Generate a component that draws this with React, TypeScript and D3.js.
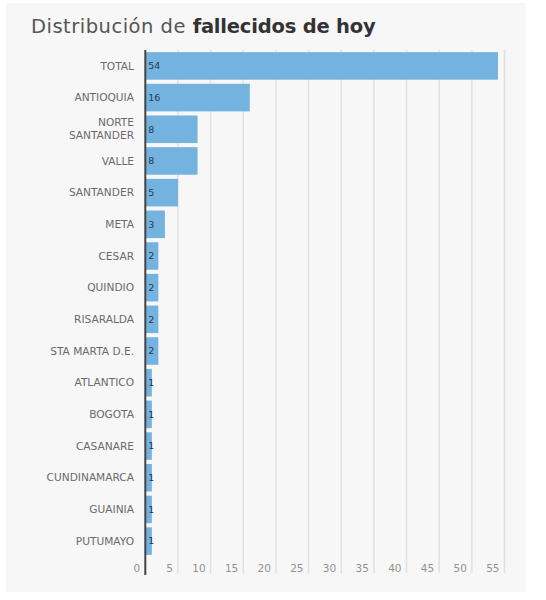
import React, { useEffect, useRef } from "react";
import * as d3 from "d3";

const categories = [
  "TOTAL",
  "ANTIOQUIA",
  "NORTE SANTANDER",
  "VALLE",
  "SANTANDER",
  "META",
  "CESAR",
  "QUINDIO",
  "RISARALDA",
  "STA MARTA D.E.",
  "ATLANTICO",
  "BOGOTA",
  "CASANARE",
  "CUNDINAMARCA",
  "GUAINIA",
  "PUTUMAYO",
];
const values = [54, 16, 8, 8, 5, 3, 2, 2, 2, 2, 1, 1, 1, 1, 1, 1];
const tickValues = [0, 5, 10, 15, 20, 25, 30, 35, 40, 45, 50, 55];
const labelLines: Record<string, string[]> = {
  "NORTE SANTANDER": ["NORTE", "SANTANDER"],
};

const W = 546;
const H = 600;
const FONT = "'DejaVu Sans', sans-serif";

export default function App() {
  const ref = useRef<SVGSVGElement>(null);

  useEffect(() => {
    const svg = d3.select(ref.current);
    svg.selectAll("*").remove();

    svg
      .append("rect")
      .attr("x", 0)
      .attr("y", 0)
      .attr("width", W)
      .attr("height", H)
      .attr("fill", "#ffffff");
    svg
      .append("rect")
      .attr("x", 6)
      .attr("y", 3)
      .attr("width", 520)
      .attr("height", 589)
      .attr("fill", "#f7f7f7");

    const title = svg
      .append("text")
      .attr("x", 31)
      .attr("y", 33)
      .attr("font-family", FONT)
      .attr("font-size", 19.5);
    title
      .append("tspan")
      .attr("fill", "#555")
      .attr("letter-spacing", 0.5)
      .text("Distribución de ");
    title
      .append("tspan")
      .attr("fill", "#333")
      .attr("font-weight", "bold")
      .attr("letter-spacing", -0.2)
      .text("fallecidos de hoy");

    const x = d3.scaleLinear().domain([0, 55]).range([145.3, 504.5]);
    const y = d3
      .scaleBand<string>()
      .domain(categories)
      .range([51.5, 555.5])
      .paddingInner(0.13)
      .paddingOuter(0.02);

    const grid = svg.append("g");
    grid
      .selectAll("line")
      .data(tickValues.slice(1))
      .join("line")
      .attr("x1", (d) => x(d))
      .attr("x2", (d) => x(d))
      .attr("y1", 50)
      .attr("y2", 573)
      .attr("stroke", "#e0e0e0")
      .attr("stroke-width", 1.5);

    svg
      .append("g")
      .selectAll("rect")
      .data(values)
      .join("rect")
      .attr("x", x(0))
      .attr("y", (_, i) => y(categories[i])!)
      .attr("width", (d) => x(d) - x(0))
      .attr("height", y.bandwidth())
      .attr("fill", "#74b3e0");

    svg
      .append("g")
      .selectAll("text")
      .data(values)
      .join("text")
      .attr("x", x(0) + 3)
      .attr("y", (_, i) => y(categories[i])! + y.bandwidth() / 2)
      .attr("dy", "0.35em")
      .attr("font-family", FONT)
      .attr("font-size", 9.5)
      .attr("fill", "#2a3a4a")
      .text((d) => String(d));

    const yl = svg.append("g");
    categories.forEach((c) => {
      const lines = labelLines[c] || [c];
      const cy = y(c)! + y.bandwidth() / 2;
      const lh = 13;
      const t = yl
        .append("text")
        .attr("x", 134)
        .attr("text-anchor", "end")
        .attr("font-family", FONT)
        .attr("font-size", 10.6)
        .attr("fill", "#6a6a6a");
      lines.forEach((l, k) => {
        t.append("tspan")
          .attr("x", 134)
          .attr("y", cy + (k - (lines.length - 1) / 2) * lh)
          .attr("dy", "0.35em")
          .text(l);
      });
    });

    svg
      .append("g")
      .selectAll("text")
      .data(tickValues)
      .join("text")
      .attr("x", (d) => x(d) - 5)
      .attr("y", 568)
      .attr("dy", "0.35em")
      .attr("text-anchor", "end")
      .attr("font-family", FONT)
      .attr("font-size", 10.5)
      .attr("fill", "#929292")
      .text((d) => String(d));

    svg
      .append("line")
      .attr("x1", x(0))
      .attr("x2", x(0))
      .attr("y1", 50)
      .attr("y2", 575)
      .attr("stroke", "#444")
      .attr("stroke-width", 2);
  }, []);

  return (
    <svg
      ref={ref}
      width={W}
      height={H}
      style={{ position: "absolute", left: 0, top: 0 }}
    />
  );
}
